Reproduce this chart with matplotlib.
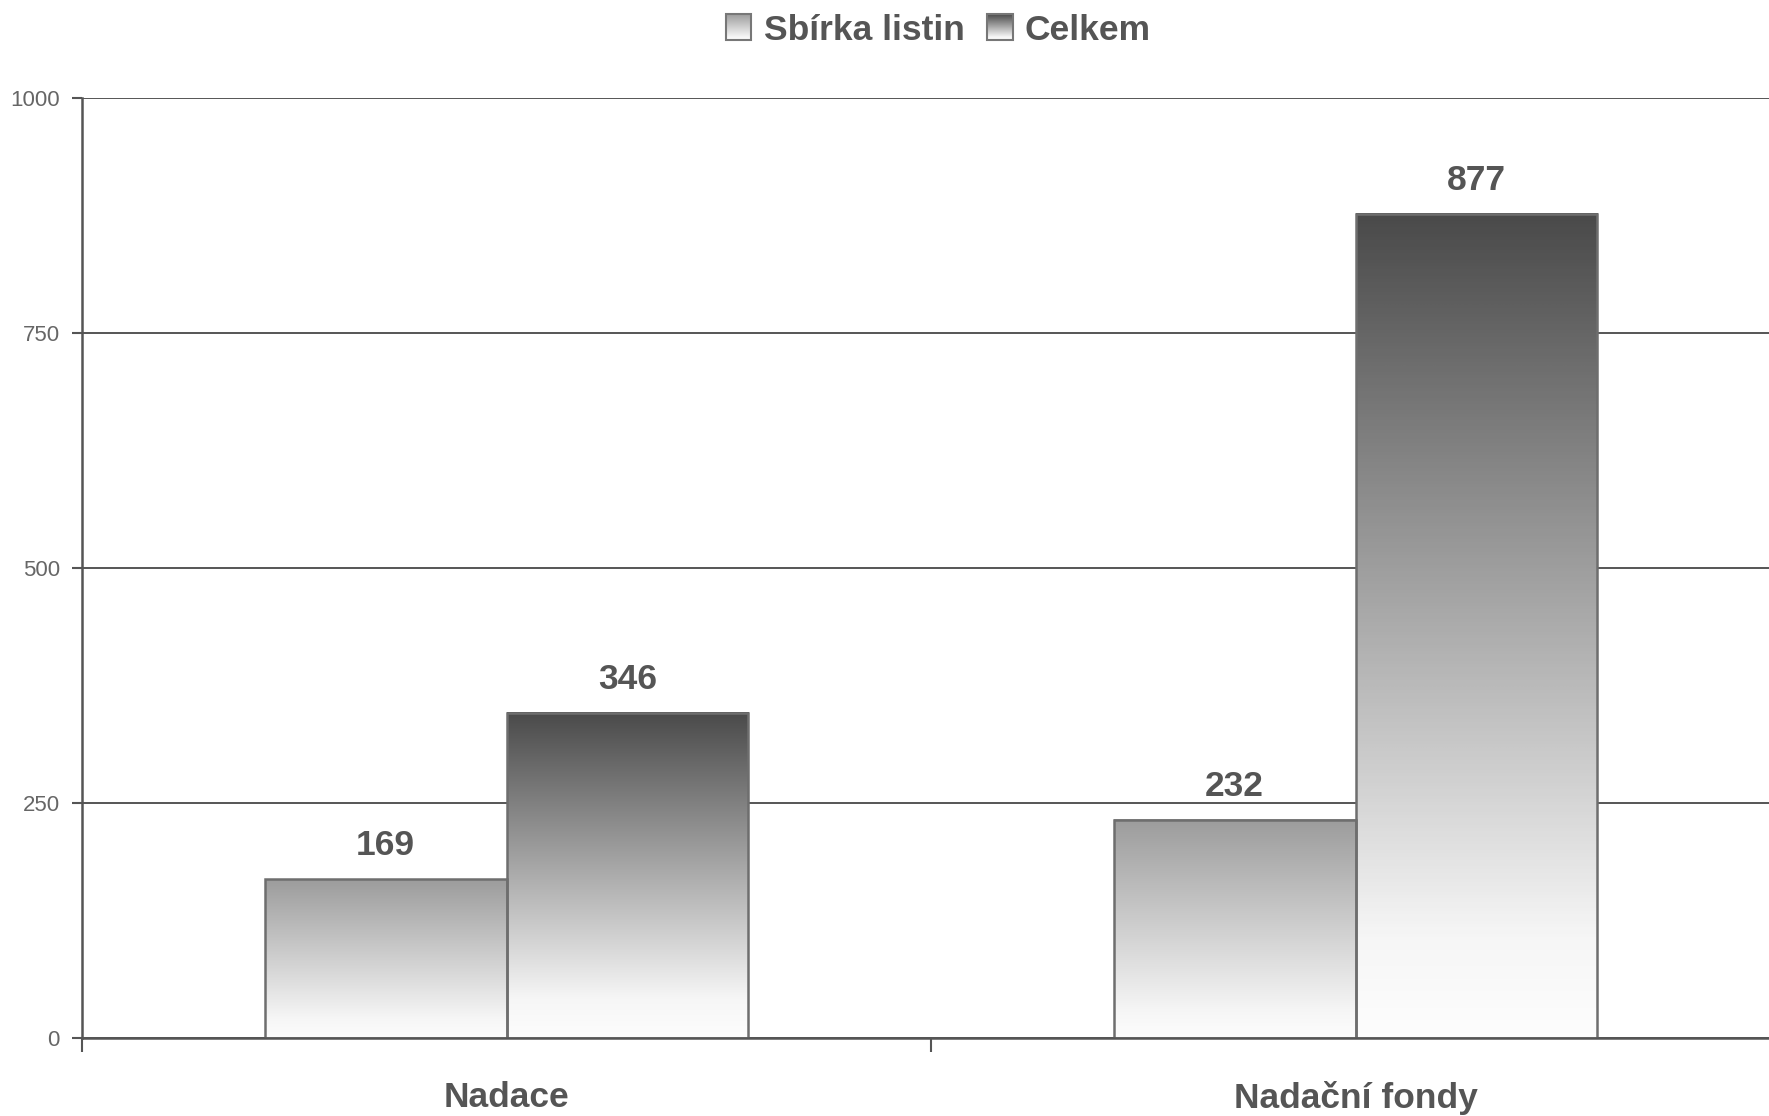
import matplotlib
matplotlib.use('Agg')
import matplotlib.pyplot as plt
import numpy as np
from matplotlib.colors import LinearSegmentedColormap
from matplotlib.legend_handler import HandlerBase
from matplotlib.image import BboxImage
from matplotlib.transforms import Bbox, TransformedBbox
from matplotlib.patches import Rectangle

categories = ['Nadace', 'Nadační fondy']
series_names = ['Sbírka listin', 'Celkem']
sbirka = [169, 232]
celkem = [346, 877]
yticks = [0, 250, 500, 750, 1000]

top_colors = ['#9c9c9c', '#4a4a4a']
text_col = '#555555'
plt.rcParams['font.family'] = ['Liberation Sans Narrow', 'Liberation Sans', 'DejaVu Sans']


def make_cmap(top):
    return LinearSegmentedColormap.from_list(
        'g', [(0, '#fdfdfd'), (0.12, '#f6f6f6'), (1, top)])


grad = np.linspace(0, 1, 256).reshape(-1, 1)


class GradHandler(HandlerBase):
    def __init__(self, cmap):
        super().__init__()
        self.cmap = cmap

    def create_artists(self, legend, orig_handle, xdescent, ydescent,
                       width, height, fontsize, trans):
        s = min(width, height)
        x0 = width - s
        bb = Bbox.from_bounds(x0, -ydescent, s, s)
        img = BboxImage(TransformedBbox(bb, trans), cmap=self.cmap,
                        origin='upper', interpolation='bilinear')
        # first row is drawn at the top: dark on top, light at the bottom
        img.set_data(grad[::-1])
        rect = Rectangle((x0, -ydescent), s, s, facecolor='none',
                         edgecolor='#777777', lw=1.5, transform=trans)
        return [img, rect]


fig = plt.figure(figsize=(17.69, 11.16), dpi=100)
ax = fig.add_axes([82 / 1769, 78 / 1116, 1698 / 1769, 940 / 1116])

x = np.arange(len(categories))
w = 0.285
cmaps = [make_cmap(c) for c in top_colors]
handles = []
for i, vals in enumerate([sbirka, celkem]):
    xs = x - w / 2 + i * w
    bars = ax.bar(xs, vals, w, facecolor='none', edgecolor='#6e6e6e',
                  lw=1.8, zorder=4)
    handles.append(bars)
    for b, v in zip(bars, vals):
        bx = b.get_x()
        ax.imshow(grad, extent=[bx, bx + w, 0, v], origin='lower',
                  aspect='auto', cmap=cmaps[i], zorder=3,
                  interpolation='bilinear')
        ax.annotate(str(v), (bx + w / 2, v), xytext=(0, 12),
                    textcoords='offset points', ha='center', va='bottom',
                    fontsize=25.5, fontweight='bold', color=text_col)

ax.set_xlim(-0.5, 1.5)
ax.set_ylim(0, 1000)
ax.set_yticks(yticks)
ax.set_yticklabels([str(t) for t in yticks])
ax.set_xticks([-0.5, 0.5, 1.5])
ax.set_xticklabels([])
ax.set_xticks(x, minor=True)
ax.set_xticklabels(categories, minor=True)
ax.tick_params(axis='x', which='minor', length=0, pad=31,
               labelsize=25.5, labelcolor=text_col)
for lab in ax.get_xticklabels(minor=True):
    lab.set_fontweight('bold')
ax.tick_params(axis='x', which='major', length=10, width=1.5, color='#555555')
ax.tick_params(axis='y', length=7, width=1.5, color='#555555', pad=9,
               labelsize=16, labelcolor='#666666')
ax.grid(axis='y', color='#555555', lw=1.4, zorder=1)
for s in ['top', 'right']:
    ax.spines[s].set_visible(False)
for s in ['left', 'bottom']:
    ax.spines[s].set_color('#555555')
    ax.spines[s].set_linewidth(1.8)
    ax.spines[s].set_zorder(5)

leg = fig.legend(handles, series_names, loc='center',
                 bbox_to_anchor=(938 / 1769, 1 - 30 / 1116),
                 ncol=2, frameon=False, handlelength=0.75, handleheight=0.75,
                 handletextpad=0.35, columnspacing=0.6,
                 prop={'size': 25.5, 'weight': 'bold'},
                 handler_map={handles[0]: GradHandler(cmaps[0]),
                              handles[1]: GradHandler(cmaps[1])})
for t in leg.get_texts():
    t.set_color(text_col)

fig.savefig('out.png', dpi=100)
